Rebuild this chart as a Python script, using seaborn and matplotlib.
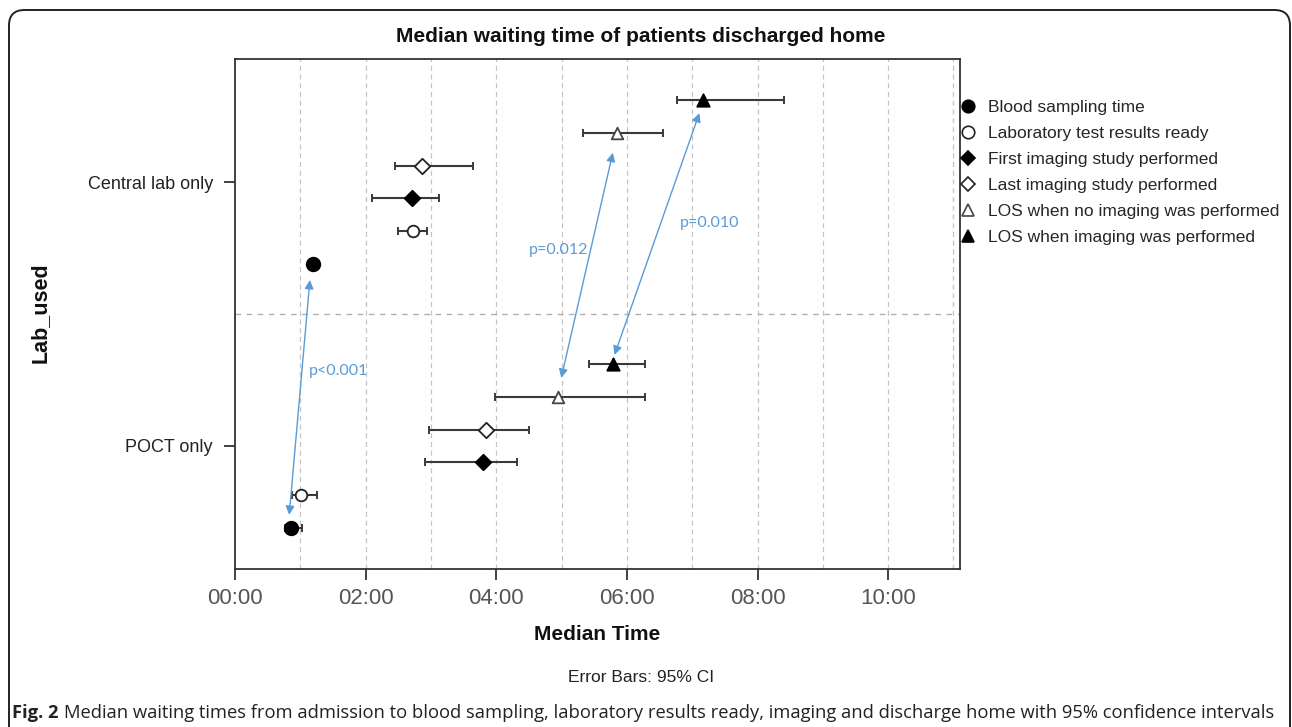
import numpy as np
import pandas as pd
import matplotlib
matplotlib.use("Agg")
import matplotlib.pyplot as plt
import seaborn as sns
from matplotlib.lines import Line2D
from matplotlib.patches import FancyBboxPatch
from matplotlib.ticker import MultipleLocator, FuncFormatter

# ---------------- data (hours after admission) ----------------
categories = ["Central lab only", "POCT only"]
series = ["Blood sampling time", "Laboratory test results ready",
          "First imaging study performed", "Last imaging study performed",
          "LOS when no imaging was performed", "LOS when imaging was performed"]

blood_med = [1.19, 0.86]
lab_med = [2.72, 1.01]
first_med = [2.71, 3.80]
last_med = [2.87, 3.84]
losno_med = [5.85, 4.94]
losimg_med = [7.16, 5.79]

blood_lo = [1.13, 0.76]
lab_lo = [2.49, 0.88]
first_lo = [2.10, 2.91]
last_lo = [2.45, 2.97]
losno_lo = [5.33, 3.98]
losimg_lo = [6.76, 5.42]

blood_hi = [1.22, 1.03]
lab_hi = [2.94, 1.26]
first_hi = [3.13, 4.32]
last_hi = [3.64, 4.50]
losno_hi = [6.56, 6.27]
losimg_hi = [8.41, 6.28]

x_ticks_hours = [0, 2, 4, 6, 8, 10]

medians = [blood_med, lab_med, first_med, last_med, losno_med, losimg_med]
lows = [blood_lo, lab_lo, first_lo, last_lo, losno_lo, losimg_lo]
highs = [blood_hi, lab_hi, first_hi, last_hi, losno_hi, losimg_hi]

rows = []
for si, s in enumerate(series):
    for ci, c in enumerate(categories):
        rows.append(dict(series=s, si=si, category=c, ci=ci,
                         median=medians[si][ci], lo=lows[si][ci], hi=highs[si][ci]))
df = pd.DataFrame(rows)
step = 0.124
df["y"] = df["ci"] + (2.5 - df["si"]) * step

# ---------------- styling ----------------
sns.set_theme(style="white")
plt.rcParams["font.family"] = ["Liberation Sans", "DejaVu Sans"]

fig = plt.figure(figsize=(12.92, 7.27), dpi=100)
ax = fig.add_axes([235 / 1292, 1 - 569 / 727, (960 - 235) / 1292, (569 - 59) / 727])

styles = [
    dict(marker="o", fc="black", ec="black", s=95),
    dict(marker="o", fc="white", ec="#222222", s=70),
    dict(marker="D", fc="black", ec="black", s=62),
    dict(marker="D", fc="white", ec="#222222", s=62),
    dict(marker="^", fc="white", ec="#444444", s=70),
    dict(marker="^", fc="black", ec="black", s=80),
]

# grid
for h in np.arange(1, 12, 1):
    ax.axvline(h, color="#c4c4c4", lw=0.9, ls=(0, (4, 3)), zorder=0)
ax.axhline(0.5, color="#b0b0b0", lw=1.0, ls=(0, (4, 4)), zorder=0)

# error bars then markers
for si, s in enumerate(series):
    d = df[df["series"] == s]
    ax.errorbar(d["median"], d["y"], xerr=[d["median"] - d["lo"], d["hi"] - d["median"]],
                fmt="none", ecolor="#3a3a3a", elinewidth=1.5, capsize=3.2, capthick=1.4, zorder=2)
for si, s in enumerate(series):
    d = df[df["series"] == s]
    st = styles[si]
    sns.scatterplot(data=d, x="median", y="y", ax=ax, marker=st["marker"], s=st["s"],
                    color=st["fc"], edgecolor=st["ec"], linewidth=1.3, zorder=3, legend=False)

ax.set_xlim(0, 11.1)
ax.set_ylim(1 + 0.466, -0.466)
ax.xaxis.set_major_locator(MultipleLocator(2))
ax.xaxis.set_major_formatter(FuncFormatter(lambda v, p: f"{int(round(v)):02d}:00"))
ax.set_yticks([0, 1])
ax.set_yticklabels(categories)
ax.tick_params(axis="x", direction="out", length=8, width=1.3, color="#333333",
               labelsize=16, labelcolor="#555555", pad=6, bottom=True)
ax.tick_params(axis="y", direction="out", length=8, width=1.3, color="#333333",
               labelsize=13, labelcolor="#222222", pad=8, left=True)
for sp in ax.spines.values():
    sp.set_visible(True)
    sp.set_color("#333333")
    sp.set_linewidth(1.3)
ax.set_xlabel("")
ax.set_ylabel("")

# p-value arrows
blue = "#5b9bd5"
arrows = [((0.83, 1.261), (1.147, 0.371)),
          ((4.995, 0.742), (5.785, -0.111)),
          ((5.81, 0.655), (7.11, -0.261))]
for a, b in arrows:
    ax.annotate("", xy=b, xytext=a,
                arrowprops=dict(arrowstyle="<|-|>", color=blue, lw=1.0,
                                mutation_scale=13, shrinkA=0, shrinkB=0), zorder=4)
ax.text(1.13, 0.716, "p<0.001", color=blue, fontsize=11.5, family="Lato", va="center", ha="left")
ax.text(4.95, 0.258, "p=0.012", color=blue, fontsize=11.5, family="Lato", va="center", ha="center")
ax.text(7.26, 0.155, "p=0.010", color=blue, fontsize=11.5, family="Lato", va="center", ha="center")

# legend
handles = [Line2D([], [], ls="none", marker=st["marker"], markerfacecolor=st["fc"],
                  markeredgecolor=st["ec"], markersize=(9 if st["marker"] != "D" else 7.5),
                  markeredgewidth=1.2) for st in styles]
fig.legend(handles, series, loc="upper left", bbox_to_anchor=(961 / 1292, 1 - 100 / 727),
           frameon=False, fontsize=12.5, handlelength=0.8, handletextpad=0.75,
           labelspacing=0.62, borderaxespad=0, borderpad=0)

# titles / labels
fig.text(641 / 1292, 1 - 37 / 727, "Median waiting time of patients discharged home",
         ha="center", va="center", fontsize=15, fontweight="bold", color="#111111")
fig.text(597 / 1292, 1 - 635 / 727, "Median Time", ha="center", va="center",
         fontsize=15, fontweight="bold", color="#111111")
fig.text(641 / 1292, 1 - 677 / 727, "Error Bars: 95% CI", ha="center", va="center",
         fontsize=12.5, color="#222222")
fig.text(40 / 1292, 1 - 313 / 727, "Lab_used", ha="center", va="center", rotation=90,
         fontsize=15.5, fontweight="bold", color="#111111")

# border
border = FancyBboxPatch((9 / 1292, -0.05), (1290 - 9) / 1292, 1.05 - 10 / 727,
                        boxstyle="round,pad=0,rounding_size=0.012",
                        transform=fig.transFigure, fill=False, ec="#222222", lw=1.4,
                        mutation_aspect=1292 / 727)
fig.patches.append(border)

# caption
t1 = fig.text(12 / 1292, 1 - 713 / 727, "Fig. 2", ha="left", va="center", fontsize=13.2,
              fontweight="bold", family="Open Sans", color="#222222")
fig.canvas.draw()
bb = t1.get_window_extent(renderer=fig.canvas.get_renderer())
fig.text((bb.x1 + 5) / 1292, 1 - 713 / 727,
         "Median waiting times from admission to blood sampling, laboratory results ready, imaging and discharge home with 95% confidence intervals",
         ha="left", va="center", fontsize=13.2, family="Open Sans", color="#222222")

fig.savefig("out.png", dpi=100)
